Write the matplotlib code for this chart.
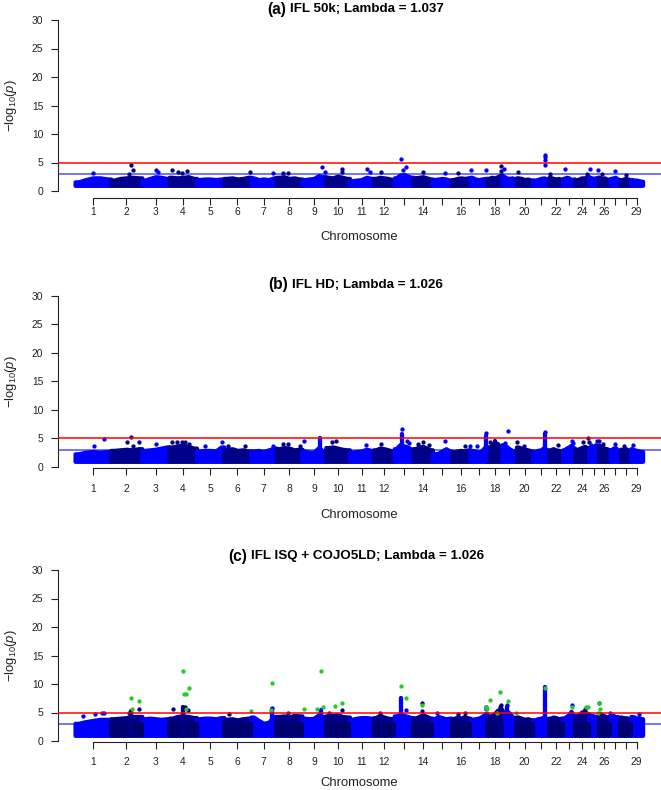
import matplotlib
matplotlib.use('Agg')
import matplotlib.pyplot as plt
import numpy as np

plt.rcParams['font.family'] = ['Liberation Sans', 'DejaVu Sans']
plt.rcParams['mathtext.fontset'] = 'custom'
plt.rcParams['mathtext.rm'] = 'Liberation Sans'
plt.rcParams['mathtext.it'] = 'Liberation Sans:italic'

# cattle autosome lengths (Mb)
chrom_len = [158.3, 137.1, 121.4, 120.8, 121.2, 119.5, 112.6, 113.4, 105.7, 104.3,
             107.3, 91.2, 84.2, 84.6, 85.3, 81.7, 75.2, 66.0, 64.1, 72.0,
             71.6, 61.4, 52.5, 62.7, 42.9, 51.7, 45.4, 46.3, 51.5]
tick_labels = ['1', '2', '3', '4', '5', '6', '7', '8', '9', '10', '11', '12', '', '14', '',
               '16', '', '18', '', '20', '', '22', '', '24', '', '26', '', '', '29']

titles = [('(a)', 'IFL 50k; Lambda = 1.037'),
          ('(b)', 'IFL HD; Lambda = 1.026'),
          ('(c)', 'IFL ISQ + COJO5LD; Lambda = 1.026')]

# top of the dense band of SNPs, 5 readings along each chromosome
band_a = [[1.6, 2.0, 2.3, 2.3, 2.1], [1.9, 2.2, 2.3, 2.4, 2.3], [1.9, 2.2, 2.5, 2.4, 2.2],
          [2.4, 2.3, 2.4, 2.5, 2.2], [2.0, 2.1, 2.1, 2.0, 2.1], [2.2, 2.3, 2.1, 2.2, 2.4],
          [2.3, 2.0, 2.1, 2.0, 2.3], [2.4, 2.5, 2.2, 2.3, 2.1], [2.0, 2.1, 2.2, 2.7, 2.5],
          [2.4, 2.3, 2.6, 2.4, 2.2], [1.8, 1.9, 2.0, 2.4, 2.2], [2.2, 2.4, 2.3, 2.2, 2.0],
          [2.3, 2.8, 2.9, 2.6, 2.4], [2.3, 2.4, 2.5, 2.3, 2.1], [2.0, 2.1, 2.2, 2.1, 1.9],
          [2.0, 2.2, 2.3, 2.2, 2.3], [2.4, 2.1, 2.0, 2.1, 2.2], [2.2, 2.4, 2.3, 2.5, 2.8],
          [2.6, 2.3, 2.2, 2.3, 2.1], [2.3, 2.2, 2.0, 2.1, 1.9], [1.9, 2.0, 2.2, 2.3, 2.0],
          [2.4, 2.2, 2.1, 2.2, 2.0], [2.2, 2.4, 2.3, 2.0, 2.1], [1.9, 2.1, 2.3, 2.3, 2.5],
          [2.4, 2.3, 2.2, 2.3, 2.4], [2.4, 2.2, 2.3, 2.1, 2.0], [2.2, 2.3, 2.4, 2.1, 2.0],
          [1.9, 2.1, 2.2, 2.1, 2.0], [2.0, 1.9, 1.9, 1.8, 1.7]]
band_b = [[2.3, 2.6, 2.7, 2.6, 2.7], [2.9, 3.0, 3.1, 3.0, 3.2], [2.9, 3.0, 3.1, 3.3, 3.5],
          [3.5, 3.7, 3.8, 3.6, 3.3], [2.8, 2.9, 2.9, 2.8, 3.5], [3.0, 3.2, 2.9, 3.0, 2.8],
          [2.8, 2.9, 2.7, 3.0, 3.3], [3.2, 3.4, 3.3, 3.0, 3.1], [2.8, 2.6, 2.6, 3.4, 2.7],
          [3.4, 3.5, 3.3, 3.1, 3.0], [2.6, 2.7, 2.8, 3.1, 2.9], [3.0, 3.3, 3.2, 3.0, 2.8],
          [3.2, 3.9, 3.7, 3.5, 3.1], [3.2, 3.5, 3.6, 3.3, 3.0], [2.3, 2.4, 2.8, 3.2, 2.8],
          [2.6, 2.8, 2.9, 2.8, 3.0], [2.9, 2.8, 2.6, 2.9, 3.6], [3.4, 3.8, 4.3, 4.1, 3.3],
          [3.9, 3.6, 3.2, 2.9, 2.7], [3.5, 3.3, 3.1, 3.0, 2.8], [2.7, 2.9, 3.0, 3.4, 2.9],
          [3.0, 3.2, 3.0, 2.9, 2.8], [3.0, 3.3, 3.5, 3.8, 3.3], [3.0, 3.2, 3.4, 3.6, 3.4],
          [3.3, 3.5, 3.6, 3.9, 3.5], [3.8, 3.5, 3.3, 3.2, 3.0], [3.0, 3.3, 3.4, 3.0, 2.8],
          [3.1, 3.0, 3.2, 3.0, 2.9], [3.2, 3.0, 2.9, 2.8, 2.7]]
band_c = [[3.1, 3.4, 3.6, 3.8, 3.8], [3.9, 4.0, 4.1, 4.3, 4.3], [3.9, 4.0, 3.9, 3.8, 3.9],
          [4.0, 4.3, 4.4, 4.3, 4.1], [3.9, 4.0, 4.0, 3.9, 4.1], [3.8, 3.9, 3.7, 3.9, 4.0],
          [4.2, 3.6, 3.1, 3.3, 4.3], [4.3, 4.4, 4.2, 4.5, 4.4], [4.0, 3.9, 4.0, 4.6, 4.3],
          [4.4, 4.5, 4.6, 4.3, 4.2], [3.8, 4.0, 4.1, 4.1, 4.0], [4.1, 4.5, 4.2, 4.0, 3.9],
          [4.4, 4.7, 4.5, 4.3, 4.1], [4.0, 4.3, 4.6, 4.3, 4.0], [3.9, 4.3, 4.1, 3.9, 4.0],
          [3.9, 4.2, 4.0, 4.3, 4.0], [3.8, 3.9, 4.0, 4.3, 4.8], [4.2, 4.5, 4.8, 5.4, 5.5],
          [4.8, 5.3, 4.9, 4.3, 4.0], [4.2, 4.0, 3.8, 3.9, 3.7], [3.7, 3.9, 4.0, 4.2, 3.9],
          [4.0, 4.2, 4.1, 3.9, 4.0], [4.0, 4.3, 4.6, 5.2, 4.4], [4.4, 4.6, 5.1, 5.2, 4.8],
          [4.3, 4.5, 4.4, 4.2, 4.4], [4.8, 4.6, 4.4, 4.2, 4.3], [4.3, 4.5, 4.2, 4.3, 4.0],
          [4.2, 4.0, 4.1, 4.0, 3.9], [4.3, 4.2, 4.0, 4.1, 3.9]]

# narrow columns of SNPs: (chromosome, fraction along it, top value)
peaks_a = []
peaks_b = [(9, .76, 5.0), (13, .39, 5.8), (17, .94, 5.4), (21, .76, 5.8), (18, .5, 4.6)]
peaks_c = [(13, .33, 7.5), (21, .78, 9.5), (18, .91, 6.0), (19, .36, 6.0), (4, .51, 6.0),
           (7, .82, 5.6), (9, .8, 5.5), (2, .64, 5.3)]

# single SNPs above the band: (chromosome, fraction along it, -log10 p)
dots_a = [(1, .5, 3.1), (2, .65, 4.5), (2, .7, 3.7), (2, .6, 2.9), (3, .5, 3.7), (3, .6, 3.4),
          (4, .11, 3.7), (4, .33, 3.4), (4, .64, 3.5), (4, .45, 3.1), (6, .97, 3.3), (7, .88, 3.1),
          (8, .25, 3.1), (8, .45, 3.2), (9, .85, 4.2), (9, .95, 3.4), (10, .67, 3.9), (10, .7, 3.3),
          (11, .72, 3.8), (11, .85, 3.3), (12, .35, 3.4), (13, .36, 5.6), (13, .6, 4.2),
          (13, .45, 3.7), (14, .52, 3.3), (15, .65, 3.1), (16, .35, 3.1), (17, .05, 3.7),
          (17, .93, 3.7), (18, .94, 4.3), (18, .9, 3.5), (19, .13, 3.9), (20, .1, 3.4),
          (21, .78, 6.3), (21, .78, 5.9), (21, .78, 5.45), (21, .78, 4.5), (22, .05, 2.9),
          (23, .18, 3.9), (24, .85, 2.9), (25, .1, 3.9), (25, .92, 3.7), (26, .3, 2.9),
          (27, .47, 3.5), (28, .5, 2.8)]
dots_b = [(1, .54, 3.6), (1, .82, 4.85), (2, .51, 4.3), (2, .65, 5.3), (2, .72, 3.6), (2, .91, 4.4),
          (3, .5, 4.0), (4, .1, 4.3), (4, .3, 4.4), (4, .45, 4.4), (4, .57, 4.3), (4, .72, 4.0),
          (5, .3, 3.6), (5, .92, 4.3), (6, .15, 3.7), (6, .78, 3.6), (7, .88, 3.7), (8, .27, 4.0),
          (8, .44, 4.0), (8, .92, 3.6), (9, .08, 4.5), (10, .25, 4.3), (10, .42, 4.6),
          (11, .69, 3.9), (12, .35, 4.1), (13, .39, 6.6), (13, .65, 4.6), (13, .78, 4.2),
          (14, .27, 4.1), (14, .53, 4.4), (14, .84, 3.9), (15, .66, 4.6), (16, .7, 3.6),
          (17, .02, 3.6), (17, .4, 3.6), (17, .94, 5.9), (18, .2, 4.3), (19, .39, 6.35),
          (19, .2, 4.2), (20, .02, 4.4), (20, .47, 3.7), (21, .76, 6.2), (22, .62, 3.9),
          (23, .75, 4.6), (23, .83, 4.2), (24, .6, 4.3), (24, .92, 5.0), (24, .98, 4.3),
          (25, .2, 3.9), (25, .83, 4.6), (26, .02, 4.6), (26, .4, 4.0), (27, .47, 4.0),
          (28, .35, 3.7), (29, .15, 3.9)]
dots_c = [(1, .23, 4.4), (1, .57, 4.7), (1, .74, 5.0), (1, .82, 4.9), (2, .91, 5.55), (2, .6, 5.0),
          (4, .12, 5.55), (4, .58, 5.9), (4, .7, 5.4), (6, .2, 4.7), (7, .82, 5.85), (8, .45, 4.9),
          (10, .15, 5.0), (10, .69, 5.4), (12, .3, 5.0), (13, .6, 5.4), (14, .46, 6.6),
          (14, .48, 5.3), (15, .22, 5.0), (16, .32, 4.7), (16, .7, 5.0), (17, .92, 6.0),
          (17, .96, 5.6), (18, .91, 6.3), (18, .85, 5.9), (19, .36, 6.4), (23, .75, 6.3),
          (24, .75, 5.6), (26, .07, 6.6), (27, .02, 5.0), (29, .7, 4.7)]
# COJO selected SNPs (green)
green_c = [(2, .65, 7.54), (2, .91, 7.06), (2, .68, 5.6), (4, .51, 12.3), (4, .55, 8.3),
           (4, .62, 8.3), (4, .72, 9.24), (4, .6, 5.6), (7, .01, 5.2), (7, .82, 10.2), (7, .8, 5.4),
           (9, .08, 5.6), (9, .62, 5.6), (9, .8, 12.3), (9, .9, 5.9), (10, .37, 6.1), (10, .68, 6.6),
           (13, .33, 9.65), (13, .6, 7.6), (14, .47, 6.3), (17, .93, 6.0), (17, .97, 5.6),
           (18, .2, 7.2), (18, .87, 8.6), (18, .64, 5.0), (19, .39, 7.0), (19, .97, 4.9),
           (21, .78, 9.3), (23, .75, 6.0), (24, .78, 6.0), (24, .92, 6.0), (25, .95, 5.0),
           (26, .07, 6.6), (26, .12, 5.7)]

W, H = 661, 790
BLUE, NAVY, GREEN = '#0000FF', '#00008B', '#22CC22'
MS = 3.1  # marker diameter, pt

fig = plt.figure(figsize=(W / 100, H / 100), dpi=100)
lens = np.array(chrom_len)
starts = np.concatenate([[0], np.cumsum(lens)[:-1]])
centers = starts + lens / 2

X0, K = 75.1, 0.2259  # pixel of 0 Mb, pixels per Mb
xlim = ((58 - X0) / K, (W - X0) / K)

panels = [
    dict(y0=191, y30=20, axis=198, pad=1.5, title_y=9.5, xlab_y=237,
         band=band_a, peaks=peaks_a, dots=dots_a, green=[]),
    dict(y0=467, y30=295.7, axis=467.5, pad=7.5, title_y=285, xlab_y=515,
         band=band_b, peaks=peaks_b, dots=dots_b, green=[]),
    dict(y0=741, y30=570, axis=742, pad=6.0, title_y=556.5, xlab_y=783,
         band=band_c, peaks=peaks_c, dots=dots_c, green=green_c),
]


def xpos(c, f):
    return starts[c - 1] + f * lens[c - 1]


for i, p in enumerate(panels):
    sc = (p['y0'] - p['y30']) / 30.0
    top_px = p['y30'] - 8
    ax = fig.add_axes([58 / W, 1 - p['axis'] / H, (W - 58) / W, (p['axis'] - top_px) / H])
    ax.set_xlim(*xlim)
    ax.set_ylim(-(p['axis'] - p['y0']) / sc, 30 + 8 / sc)
    ax.patch.set_alpha(0)

    ax.axhline(3, color='#4D4DFF', lw=1.1, zorder=1)

    for c in range(29):
        col = BLUE if c % 2 == 0 else NAVY
        env = p['band'][c]
        xs = [starts[c]] + [starts[c] + lens[c] * (j + 0.5) / 5 for j in range(5)] + [starts[c] + lens[c]]
        ys = [env[0]] + env + [env[-1]]
        ax.fill_between(xs, 1.0, ys, facecolor=col, edgecolor=col, lw=MS,
                        joinstyle='round', zorder=2)
        if i == 2 and col == NAVY:
            ax.fill_between(xs, 1.0, np.minimum(ys, 3.0), facecolor='#000070',
                            edgecolor='#000070', lw=MS, zorder=2.1)

    for c, f, v in p['peaks']:
        col = BLUE if c % 2 == 1 else NAVY
        ax.vlines(xpos(c, f), 1.0, v, color=col, lw=MS, capstyle='round', zorder=2.5)

    for c, f, v in p['dots']:
        col = BLUE if c % 2 == 1 else NAVY
        ax.scatter(xpos(c, f), v, s=MS ** 2, color=col, lw=0, zorder=3)

    if p['green']:
        g = np.array(p['green'])
        ax.scatter([xpos(int(c), f) for c, f, v in g], g[:, 2], s=MS ** 2, color=GREEN,
                   lw=0, zorder=4)

    ax.axhline(5, color='#FF0000', lw=1.1, zorder=5)

    for s in ['top', 'right']:
        ax.spines[s].set_visible(False)
    ax.spines['left'].set_bounds(0, 30)
    ax.spines['bottom'].set_bounds(centers[0], centers[-1])
    for s in ['left', 'bottom']:
        ax.spines[s].set_linewidth(0.8)
        ax.spines[s].set_color('#222222')
    ax.set_yticks([0, 5, 10, 15, 20, 25, 30])
    ax.set_xticks(centers, tick_labels)
    ax.tick_params(axis='both', direction='out', length=4.7, width=0.8, color='#222222',
                   labelsize=7.4, labelcolor='#222222')
    ax.tick_params(axis='y', pad=5.8)
    ax.tick_params(axis='x', pad=p['pad'])

    ymid = (p['y0'] + p['y30']) / 2
    fig.text(11 / W, 1 - ymid / H, r'$-\mathrm{log}_{10}(\mathit{p})$', rotation=90,
             ha='center', va='center', fontsize=9.4, color='#222222')
    fig.text(359.5 / W, 1 - p['xlab_y'] / H, 'Chromosome', ha='center', va='center',
             fontsize=9.4, color='#222222')

    tag, rest = titles[i]
    t1 = fig.text(0, 1 - p['title_y'] / H, tag, fontsize=11.2, fontweight='bold',
                  ha='left', va='center')
    t2 = fig.text(0, 1 - p['title_y'] / H, rest, fontsize=9.6, fontweight='bold',
                  ha='left', va='center')
    r = fig.canvas.get_renderer()
    w1 = t1.get_window_extent(r).width
    w2 = t2.get_window_extent(r).width
    x_start = 356 - (w1 + 4 + w2) / 2
    t1.set_x(x_start / W)
    t2.set_x((x_start + w1 + 4) / W)

fig.savefig('out.png', dpi=100)
